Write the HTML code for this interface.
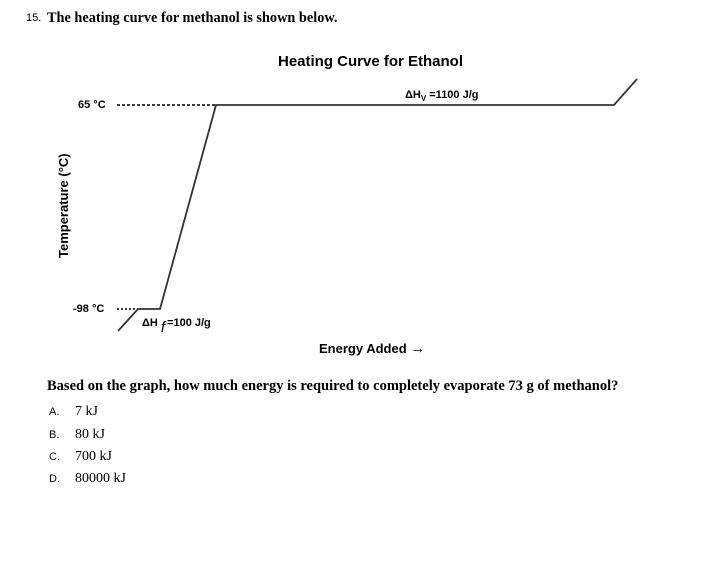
<!DOCTYPE html>
<html><head><style>
body{margin:0;width:707px;height:562px;background:#fff;position:relative;overflow:hidden}
.t{position:absolute;white-space:nowrap}
.s{font-family:"Liberation Serif",serif;font-size:14px;color:#000}
.a{font-family:"Liberation Sans",sans-serif;color:#000}
</style></head><body>
<div class="t a" style="left:26px;top:12px;font-size:11px">15.</div>
<div class="t s" style="left:47px;top:10px;font-weight:bold;font-size:14.3px">The heating curve for methanol is shown below.</div>
<div class="t a" style="left:278px;top:53px;font-size:15px;font-weight:bold">Heating Curve for Ethanol</div>
<svg style="position:absolute;left:0;top:0" width="707" height="562">
<g stroke="#333" stroke-width="1.8" fill="none">
<line x1="117" y1="105" x2="215" y2="105" stroke-dasharray="3,2" stroke="#222"/>
<line x1="117" y1="309" x2="138" y2="309" stroke-dasharray="2,2" stroke="#222"/>
<polyline points="118,331 138,309 160,309 216,105 614,105 637,79"/>
</g>
<text x="68" y="258" transform="rotate(-90 68 258)" font-family="Liberation Sans" font-size="13" font-weight="bold">Temperature (°C)</text>
</svg>
<div class="t a" style="left:78px;top:99px;font-size:11px;font-weight:bold">65 °C</div>
<div class="t a" style="left:73px;top:303px;font-size:11px;font-weight:bold">-98 °C</div>
<div class="t a" style="left:142px;top:313px;font-size:11px;font-weight:bold">ΔH<span style="display:inline-block;font-size:15px;position:relative;top:6px;font-style:italic;font-weight:normal;margin:0 2px 0 3px">f</span>=100 J/g</div>
<div class="t a" style="left:405px;top:89px;font-size:11px;font-weight:bold">ΔH<span style="font-size:8px;position:relative;top:3px">V</span> =1100 J/g</div>
<div class="t a" style="left:319px;top:340px;font-size:13px;font-weight:bold">Energy Added <span style="font-size:15px">→</span></div>
<div class="t s" style="left:47px;top:378px;font-weight:bold;font-size:14.5px">Based on the graph, how much energy is required to completely evaporate 73 g of methanol?</div>
<div class="t a" style="left:49px;top:406px;font-size:11px">A.</div><div class="t s" style="left:75px;top:404px">7 kJ</div>
<div class="t a" style="left:49px;top:429px;font-size:11px">B.</div><div class="t s" style="left:75px;top:427px">80 kJ</div>
<div class="t a" style="left:49px;top:451px;font-size:11px">C.</div><div class="t s" style="left:75px;top:449px">700 kJ</div>
<div class="t a" style="left:49px;top:473px;font-size:11px">D.</div><div class="t s" style="left:75px;top:471px">80000 kJ</div>
</body></html>
